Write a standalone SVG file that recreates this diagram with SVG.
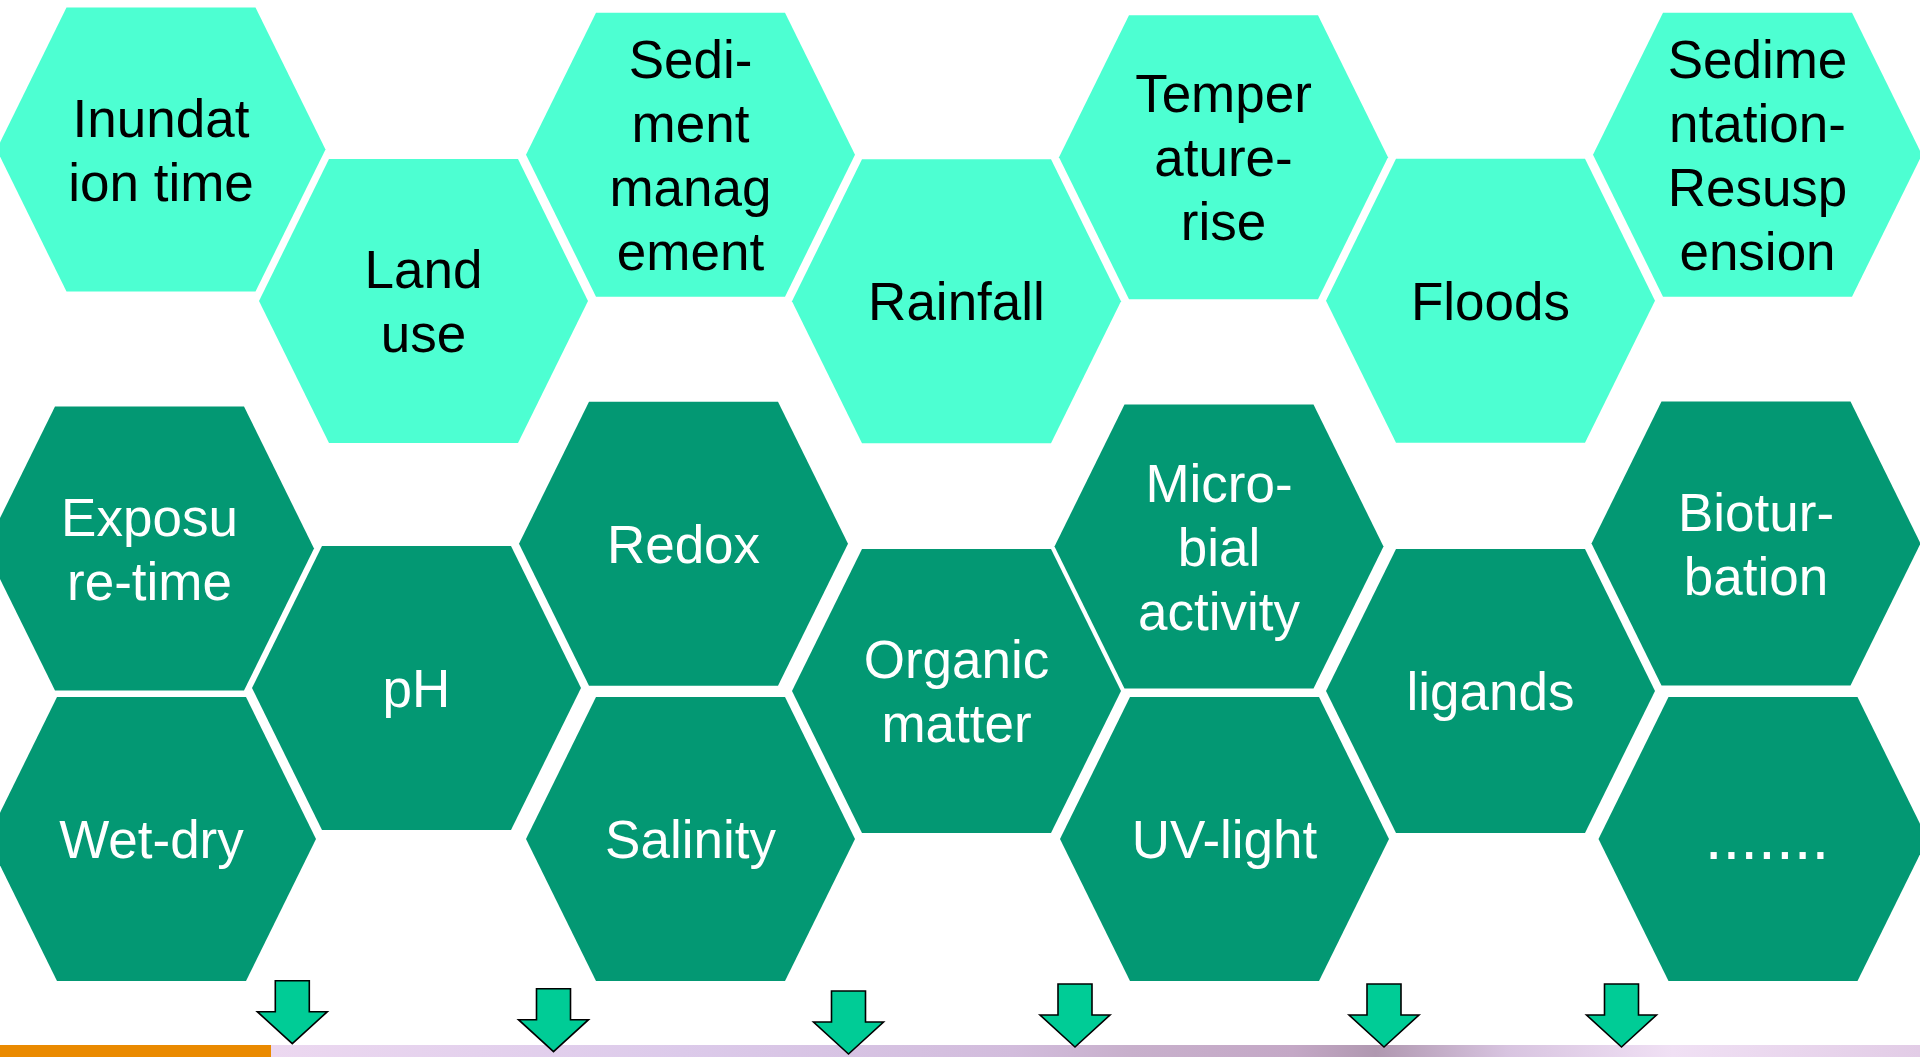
<svg xmlns="http://www.w3.org/2000/svg" xmlns:xlink="http://www.w3.org/1999/xlink" width="1920" height="1057" viewBox="0 0 1920 1057">
<style>
.light{fill:#4dffd2}
.dark{fill:#039873}
.lt{font-family:"Liberation Sans",Arial,sans-serif;font-size:53px;fill:#000;text-anchor:middle}
.dt{font-family:"Liberation Sans",Arial,sans-serif;font-size:53px;fill:#fff;text-anchor:middle}
.arrow{fill:#00cc96;stroke:#000;stroke-width:1.6;stroke-linejoin:miter}
</style>
<defs>
<polygon id="hex" points="-94.5,-142 94.5,-142 164.5,0 94.5,142 -94.5,142 -164.5,0"/>
<polygon id="arr" points="-17,0 17,0 17,31 35,31 0,63 -35,31 -17,31"/>
<linearGradient id="bar" x1="0" y1="0" x2="1" y2="0">
<stop offset="0" stop-color="#ecd8f0"/>
<stop offset="0.25" stop-color="#dccaea"/>
<stop offset="0.45" stop-color="#d2bcdc"/>
<stop offset="0.52" stop-color="#c8b0cc"/>
<stop offset="0.62" stop-color="#c4a8c6"/>
<stop offset="0.67" stop-color="#b098b0"/>
<stop offset="0.75" stop-color="#d8c4e0"/>
<stop offset="0.85" stop-color="#f0e0f4"/>
<stop offset="1" stop-color="#e2cce6"/>
</linearGradient>
</defs>
<rect x="0" y="0" width="1920" height="1057" fill="#fff"/>
<g id="bottom-bar">
<rect x="271" y="1045" width="1649" height="12" fill="url(#bar)"/>
<rect x="0" y="1045" width="271" height="12" fill="#ea8a00"/>
</g>
<g id="n-inundation"><use xlink:href="#hex" class="light" transform="translate(161,149.5)"/><text class="lt"><tspan x="161" y="136.5">Inundat</tspan><tspan x="161" y="200.5">ion time</tspan></text></g>
<g id="n-landuse"><use xlink:href="#hex" class="light" transform="translate(423.5,301)"/><text class="lt"><tspan x="423.5" y="288">Land</tspan><tspan x="423.5" y="352">use</tspan></text></g>
<g id="n-sediment"><use xlink:href="#hex" class="light" transform="translate(690.5,154.7)"/><text class="lt"><tspan x="690.5" y="77.7">Sedi-</tspan><tspan x="690.5" y="141.7">ment</tspan><tspan x="690.5" y="205.7">manag</tspan><tspan x="690.5" y="269.7">ement</tspan></text></g>
<g id="n-rainfall"><use xlink:href="#hex" class="light" transform="translate(956.5,301.3)"/><text class="lt" x="956.5" y="320.3">Rainfall</text></g>
<g id="n-temperature"><use xlink:href="#hex" class="light" transform="translate(1223.5,157.3)"/><text class="lt"><tspan x="1223.5" y="112.3">Temper</tspan><tspan x="1223.5" y="176.3">ature-</tspan><tspan x="1223.5" y="240.3">rise</tspan></text></g>
<g id="n-floods"><use xlink:href="#hex" class="light" transform="translate(1490.5,300.7)"/><text class="lt" x="1490.5" y="319.7">Floods</text></g>
<g id="n-sedimentation"><use xlink:href="#hex" class="light" transform="translate(1757.5,154.7)"/><text class="lt"><tspan x="1757.5" y="77.7">Sedime</tspan><tspan x="1757.5" y="141.7">ntation-</tspan><tspan x="1757.5" y="205.7">Resusp</tspan><tspan x="1757.5" y="269.7">ension</tspan></text></g>
<g id="n-exposure"><use xlink:href="#hex" class="dark" transform="translate(149.5,548.5)"/><text class="dt"><tspan x="149.5" y="535.5">Exposu</tspan><tspan x="149.5" y="599.5">re-time</tspan></text></g>
<g id="n-wetdry"><use xlink:href="#hex" class="dark" transform="translate(151.5,839)"/><text class="dt" x="151.5" y="858">Wet-dry</text></g>
<g id="n-ph"><use xlink:href="#hex" class="dark" transform="translate(416.5,688)"/><text class="dt" x="416.5" y="707">pH</text></g>
<g id="n-redox"><use xlink:href="#hex" class="dark" transform="translate(683.5,543.7)"/><text class="dt" x="683.5" y="562.7">Redox</text></g>
<g id="n-salinity"><use xlink:href="#hex" class="dark" transform="translate(690.5,839)"/><text class="dt" x="690.5" y="858">Salinity</text></g>
<g id="n-organic"><use xlink:href="#hex" class="dark" transform="translate(956.5,691)"/><text class="dt"><tspan x="956.5" y="678">Organic</tspan><tspan x="956.5" y="742">matter</tspan></text></g>
<g id="n-microbial"><use xlink:href="#hex" class="dark" transform="translate(1219,546.5)"/><text class="dt"><tspan x="1219" y="501.5">Micro-</tspan><tspan x="1219" y="565.5">bial</tspan><tspan x="1219" y="629.5">activity</tspan></text></g>
<g id="n-uvlight"><use xlink:href="#hex" class="dark" transform="translate(1224.5,839)"/><text class="dt" x="1224.5" y="858">UV-light</text></g>
<g id="n-ligands"><use xlink:href="#hex" class="dark" transform="translate(1490.5,691)"/><text class="dt" x="1490.5" y="710">ligands</text></g>
<g id="n-bioturbation"><use xlink:href="#hex" class="dark" transform="translate(1756,543.5)"/><text class="dt"><tspan x="1756" y="530.5">Biotur-</tspan><tspan x="1756" y="594.5">bation</tspan></text></g>
<g id="n-more"><use xlink:href="#hex" class="dark" transform="translate(1763,839)"/><text class="dt" x="1767" y="859" style="font-size:64px">.......</text></g>
<g id="connectors">
<use xlink:href="#arr" class="arrow" transform="translate(292.3,980.7)"/>
<use xlink:href="#arr" class="arrow" transform="translate(553.5,988.7)"/>
<use xlink:href="#arr" class="arrow" transform="translate(848.5,991)"/>
<use xlink:href="#arr" class="arrow" transform="translate(1075,984)"/>
<use xlink:href="#arr" class="arrow" transform="translate(1384,984)"/>
<use xlink:href="#arr" class="arrow" transform="translate(1621.5,984)"/>
</g>
</svg>
